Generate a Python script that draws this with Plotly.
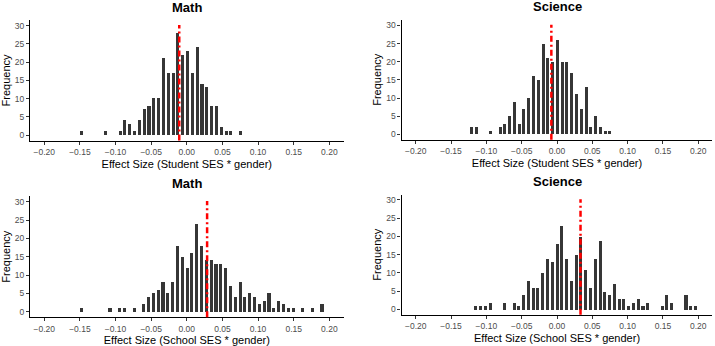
import plotly.graph_objects as go

# ---------------- data ----------------
bin_width = 0.00676

# Math, Student SES * gender
tl_start = -0.1477
tl_counts = [1, 0, 0, 0, 0, 1, 0, 0, 1, 4, 3, 1, 4, 7, 8, 10, 10, 21, 17, 17,
             28, 22, 23, 17, 24, 14, 13, 8, 8, 2, 1, 1, 0, 1]
# Science, Student SES * gender
tr_start = -0.1217
tr_counts = [2, 2, 0, 0, 1, 0, 2, 3, 5, 9, 3, 7, 10, 16, 15, 25, 21, 20, 26, 20,
             20, 17, 11, 7, 13, 2, 5, 2, 1, 1]
# Math, School SES * gender
bl_start = -0.1483
bl_counts = [1, 0, 0, 0, 0, 0, 1, 0, 1, 1, 0, 1, 0, 2, 4, 5, 6, 8, 5, 8,
             18, 15, 12, 16, 24, 18, 14, 14, 13, 13, 12, 7, 4, 8, 4, 5, 4, 2, 3, 5,
             1, 3, 2, 1, 1, 0, 1, 0, 1, 0, 2]
# Science, School SES * gender
br_start = -0.1154
br_counts = [1, 1, 1, 2, 0, 0, 2, 0, 2, 1, 4, 8, 6, 6, 10, 14, 13, 18, 23, 14,
             8, 15, 20, 11, 6, 14, 19, 5, 4, 7, 3, 3, 1, 2, 3, 1, 2, 0, 0, 1,
             4, 2, 0, 0, 4, 1, 1]

mean_effect = [-0.0106, -0.008, 0.0285, 0.0333]
panel_titles = ["Math", "Science", "Math", "Science"]
x_titles = ["Effect Size (Student SES * gender)", "Effect Size (Student SES * gender)",
            "Effect Size (School SES * gender)", "Effect Size (School SES * gender)"]
x_ticks = [-0.20, -0.15, -0.10, -0.05, 0.00, 0.05, 0.10, 0.15, 0.20]
y_ticks = [0, 5, 10, 15, 20, 25, 30]

starts = [tl_start, tr_start, bl_start, br_start]
counts = [tl_counts, tr_counts, bl_counts, br_counts]

# ---------------- layout geometry (pixels in 715x346) ----------------
W, H = 715, 346
px_boxes = [  # (left, right, top, bottom) of each panel
    (30.0, 343.6, 20.3, 140.5),
    (401.6, 712.4, 19.9, 139.8),
    (30.0, 343.6, 196.2, 317.2),
    (401.6, 712.4, 194.5, 314.8),
]

fig = go.Figure()
FONT = "Liberation Sans, Arial, sans-serif"

for k in range(4):
    sfx = "" if k == 0 else str(k + 1)
    xs = [starts[k] + i * bin_width for i in range(len(counts[k]))]
    fig.add_trace(go.Bar(
        x=xs, y=counts[k], width=bin_width * 0.64,
        marker=dict(color="#363636", line=dict(width=0)),
        xaxis="x" + sfx, yaxis="y" + sfx, showlegend=False,
        hoverinfo="x+y",
    ))
    l, r, t, b = px_boxes[k]
    xd = [l / W, r / W]
    yd = [(H - b) / H, (H - t) / H]
    fig.update_layout(**{
        "xaxis" + sfx: dict(
            domain=xd, anchor="y" + sfx, range=[-0.22, 0.22],
            tickvals=x_ticks, tickformat=".2f",
            showline=True, linecolor="black", linewidth=1.3,
            ticks="outside", ticklen=3, tickwidth=1, tickcolor="#333333",
            tickfont=dict(size=8.5, color="#4d4d4d", family=FONT),
            showgrid=False, zeroline=False,
            title=dict(text=x_titles[k], font=dict(size=11, color="black", family=FONT), standoff=4),
        ),
        "yaxis" + sfx: dict(
            domain=yd, anchor="x" + sfx, range=[-1.5, 31.5],
            tickvals=y_ticks,
            showline=True, linecolor="black", linewidth=1.3,
            ticks="outside", ticklen=3, tickwidth=1, tickcolor="#333333",
            tickfont=dict(size=8.5, color="#4d4d4d", family=FONT),
            showgrid=False, zeroline=False,
            title=dict(text="Frequency", font=dict(size=11, color="black", family=FONT), standoff=2),
        ),
    })
    fig.add_shape(type="line", xref="x" + sfx, yref="y" + sfx + " domain",
                  x0=mean_effect[k], x1=mean_effect[k], y0=0, y1=0.96,
                  line=dict(color="#ff0000", width=2.5, dash="6px,3px,2px,3px"))
    fig.add_annotation(text="<b>" + panel_titles[k] + "</b>", xref="paper", yref="paper",
                       x=(l + r) / 2 / W, y=(H - (t - 13)) / H, xanchor="center", yanchor="middle",
                       showarrow=False, font=dict(size=13, color="black", family=FONT))

fig.update_layout(
    width=W, height=H, margin=dict(l=0, r=0, t=0, b=0),
    paper_bgcolor="white", plot_bgcolor="white",
    bargap=0, font=dict(family=FONT),
)

fig.write_html("out.html")
